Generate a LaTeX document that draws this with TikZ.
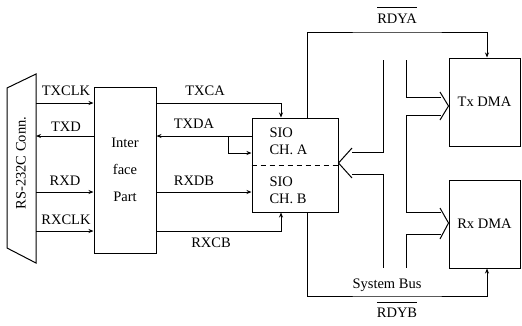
\documentclass[tikz,border=0pt]{standalone}
\usepackage{fontspec}
\setmainfont{Liberation Serif}
\usetikzlibrary{arrows.meta}

\begin{document}
\begin{tikzpicture}[x=1pt, y=-1pt, font=\fontsize{14.5}{17}\selectfont, line width=1pt,
  >={Stealth[length=5pt,width=4pt]},
  blk/.style={draw, inner sep=0pt, minimum width=#1},
  blk/.default=71pt,
  txt/.style={inner sep=1pt}]
\useasboundingbox (0,0) rectangle (522,325);
% connector
\draw (7,88) -- (36,74) -- (36,263) -- (7,248) -- cycle;
\node[txt, rotate=90] (conn) at (21,163) {RS-232C Conn.};
\coordinate (ptxclk) at (36,103);
\coordinate (ptxd)   at (36,136);
\coordinate (prxd)   at (36,192);
\coordinate (prxclk) at (36,231);
% blocks
\node[blk=62pt, minimum height=166pt, align=center, font=\fontsize{14.5}{27}\selectfont] (iface) at (125,170) {Inter\\face\\Part};
\node[blk=86pt, minimum height=94pt] (sio) at (295,165) {};
\draw[dashed, dash pattern=on 5pt off 4pt] (sio.west) -- (sio.east);
\node[txt, align=left, anchor=west] (sioa) at (268,141) {SIO\\CH. A};
\node[txt, align=left, anchor=west] (siob) at (268,190) {SIO\\CH. B};
\node[blk, minimum height=88pt] (txdma) at (484.5,102) {Tx DMA};
\node[blk, minimum height=88pt] (rxdma) at (484.5,224) {Rx DMA};
% RS-232C side
\draw[->] (ptxclk) -- (ptxclk -| iface.west);
\draw[->] (ptxd -| iface.west) -- (ptxd);
\draw[->] (prxd) -- (prxd -| iface.west);
\draw[->] (prxclk) -- (prxclk -| iface.west);
\node[txt] (ltxclk) at (66,91)  {TXCLK};
\node[txt] (ltxd)   at (66,127) {TXD};
\node[txt] (lrxd)   at (65,181) {RXD};
\node[txt] (lrxclk) at (66,220) {RXCLK};
% SIO side
\coordinate (loop) at (228,136);
\draw[->] (iface.east |- ptxclk) -| ([xshift=-14pt]sio.north);
\draw[->] (sio.west |- ptxd) -- (iface.east |- ptxd);
\draw[->] (loop) |- (sio.west |- 0,153);
\draw[->] (iface.east |- prxd) -- (sio.west |- prxd);
\draw[->] (iface.east |- prxclk) -| ([xshift=-14pt]sio.south);
\node[txt] (ltxca) at (205,91)  {TXCA};
\node[txt] (ltxda) at (194,124) {TXDA};
\node[txt] (lrxdb) at (194,181) {RXDB};
\node[txt] (lrxcb) at (211,243) {RXCB};
% ready lines
\coordinate (rdya) at (397,32);
\coordinate (rdyb) at (397,296);
\draw[->] ([xshift=12pt]sio.north) |- (rdya) -| ([xshift=2.5pt]txdma.north);
\draw[->] ([xshift=12pt]sio.south) |- (rdyb) -| ([xshift=2.5pt]rxdma.south);
\node[txt, anchor=base] (lrdya) at (397,23)  {$\overline{\hbox{\rule{0pt}{14.5pt}RDYA}}$};
\node[txt, anchor=base] (lrdyb) at (397,317) {$\overline{\hbox{\rule{0pt}{13pt}RDYB}}$};
% system bus
\draw (383,60) -- (383,152) -- (352,152);
\draw (352,148) -- (sio.east |- 0,163) -- (352,178);
\draw (352,174) -- (383,174) -- (383,268);
\draw (406,60) -- (406,97) -- (441,97);
\draw (440,92) -- (txdma.west |- 0,106) -- (440,120);
\draw (441,115) -- (406,115) -- (406,212) -- (441,212);
\draw (440,208) -- (rxdma.west |- 0,223) -- (440,239);
\draw (441,234) -- (406,234) -- (406,268);
\node[txt] (lbus) at (387,285) {System Bus};
\end{tikzpicture}
\end{document}
